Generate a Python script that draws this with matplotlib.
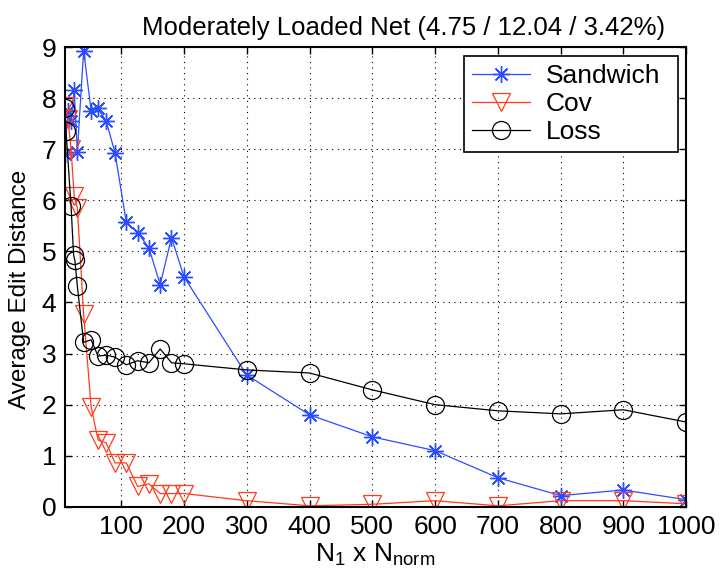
import numpy as np
import matplotlib
matplotlib.use('Agg')
import matplotlib.pyplot as plt

plt.rcParams['font.family'] = ['Liberation Sans', 'DejaVu Sans']
plt.rcParams['mathtext.fontset'] = 'custom'
plt.rcParams['mathtext.rm'] = 'Liberation Sans'
plt.rcParams['mathtext.it'] = 'Liberation Sans'

#values
x_main = [10, 15, 20, 25, 30, 40, 52, 63, 76, 90, 108, 126, 144, 162, 180, 200,
          300, 400, 500, 600, 700, 800, 900, 1000]
sandwich = [6.9, 7.75, 7.55, 8.15, 6.95, 8.93, 7.75, 7.8, 7.55, 6.93, 5.57, 5.37,
            5.07, 4.35, 5.27, 4.5, 2.58, 1.8, 1.37, 1.1, 0.57, 0.22, 0.33, 0.14]
cov = [7.85, 7.6, 7.0, 6.08, 5.85, 3.77, 1.95, 1.31, 1.25, 0.86, 0.86, 0.4,
       0.45, 0.26, 0.26, 0.26, 0.12, 0.02, 0.05, 0.12, 0.02, 0.12, 0.12, 0.06]

x_loss = [10, 12, 20, 24, 26, 30, 40, 52, 63, 76, 90, 108, 126, 144, 162, 180, 200,
          300, 400, 500, 600, 700, 800, 900, 1000]
loss = [7.8, 7.35, 5.88, 4.93, 4.83, 4.32, 3.22, 3.27, 2.95, 2.97, 2.93, 2.78, 2.86,
        2.82, 3.09, 2.82, 2.80, 2.68, 2.62, 2.29, 2.0, 1.88, 1.82, 1.9, 1.66]

xticks = [100, 200, 300, 400, 500, 600, 700, 800, 900, 1000]
yticks = list(range(10))

fig = plt.figure(figsize=(7.2, 5.74), dpi=100)
ax = fig.add_axes([0.090, 0.117, 0.863, 0.801])

blue = '#2b4dff'
red = '#ff3b1f'
#matlab style asterisk: 8 spokes
ax.plot(x_main, sandwich, color=blue, lw=0.9, marker=(8, 2, 0), markersize=12,
        markeredgewidth=1.0, label='Sandwich')
ax.plot(x_main, cov, color=red, lw=0.9, marker='v', markersize=13,
        markerfacecolor='none', markeredgewidth=0.9, label='Cov')
ax.plot(x_loss, loss, color='black', lw=0.9, marker='o', markersize=13,
        markerfacecolor='none', markeredgewidth=0.9, label='Loss')

ax.set_xlim(10, 1000)
ax.set_ylim(0, 9)
ax.set_xticks(xticks)
ax.set_yticks(yticks)
ax.tick_params(direction='in', labelsize=19, top=True, right=True, length=5, width=1, pad=6)
ax.grid(True, color='black', linestyle=(0, (1, 4)), linewidth=0.8)
for s in ax.spines.values():
    s.set_linewidth(1.5)

ax.set_title('Moderately Loaded Net (4.75 / 12.04 / 3.42%)', fontsize=18.5, pad=9, x=0.545)
ax.set_xlabel(r'N$_{1}$ x N$_{\mathrm{norm}}$', fontsize=19, labelpad=2)
ax.set_ylabel('Average Edit Distance', fontsize=17.5)
ax.yaxis.set_label_coords(-0.054, 0.472)

leg = ax.legend(loc='upper left', bbox_to_anchor=(0.6425, 0, 0.345, 0.980), mode='expand',
                fontsize=19, fancybox=False, framealpha=1,
                edgecolor='black', handlelength=2.2, borderpad=0.3,
                labelspacing=0.15, borderaxespad=0, handletextpad=0.6)
leg.get_frame().set_linewidth(1.2)

fig.savefig('out.png', dpi=100)
